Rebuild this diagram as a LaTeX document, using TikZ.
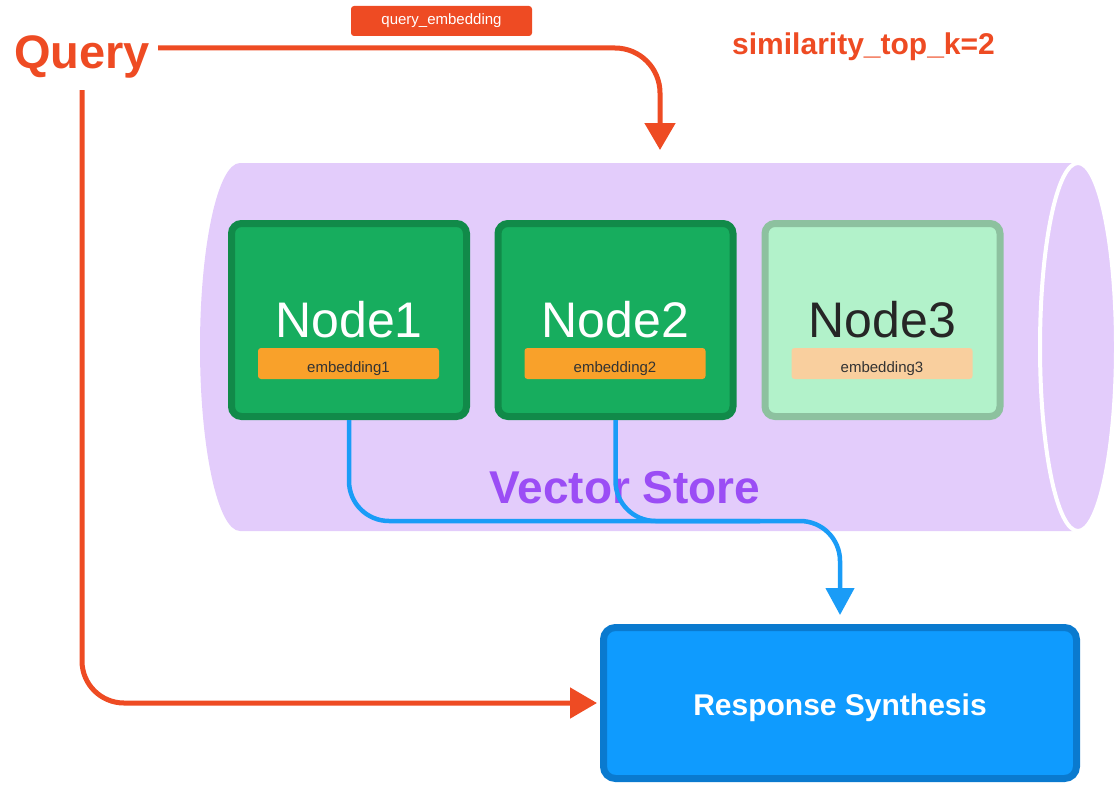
\documentclass[tikz,border=0pt]{standalone}
\usepackage{fontspec}
\setmainfont{Liberation Sans}
\usetikzlibrary{arrows.meta,calc}
\definecolor{qred}{HTML}{EE4B23}
\definecolor{cylc}{HTML}{E3CCFB}
\definecolor{vsc}{HTML}{9B4DF5}
\definecolor{gfill}{HTML}{17AD5E}
\definecolor{gline}{HTML}{118A49}
\definecolor{lgfill}{HTML}{B2F2CA}
\definecolor{lgline}{HTML}{8DC19F}
\definecolor{orng}{HTML}{F9A12A}
\definecolor{lorng}{HTML}{F9CF9E}
\definecolor{bline}{HTML}{1A9CF7}
\definecolor{rsfill}{HTML}{0F9BFE}
\definecolor{rsline}{HTML}{0A7ACF}
\begin{document}
\begin{tikzpicture}[x=1pt,y=-1pt,
  redline/.style={draw=qred,line width=5pt,-{Triangle[length=27pt,width=30pt]}},
  blueline/.style={draw=bline,line width=4.5pt},
  bluearrow/.style={blueline,-{Triangle[length=27pt,width=28pt]}},
  nodebox/.style={draw=gline,fill=gfill,line width=7pt,rounded corners=10pt,minimum width=235pt,minimum height=193pt},
  nodebox3/.style={nodebox,draw=lgline,fill=lgfill},
  nodetitle/.style={font=\fontsize{50}{50}\selectfont,white,inner sep=0pt},
  emblabel/.style={fill=orng,rounded corners=3pt,minimum width=181pt,minimum height=31pt,inner sep=0pt,
    text height=17pt,text depth=0pt,font=\fontsize{15}{15}\selectfont,text=black!80},
  emblabel3/.style={emblabel,fill=lorng},
]
\useasboundingbox (0,0) rectangle (1115,784);
% cylinder
\fill[cylc] (240,163) -- (1078,163) arc[start angle=90,end angle=-90,x radius=38pt,y radius=184pt]
  -- (240,531) arc[start angle=270,end angle=90,x radius=40pt,y radius=184pt] -- cycle;
\draw[white,line width=4pt] (1078,347) ellipse[x radius=38pt,y radius=184pt];
\node[font=\fontsize{46}{46}\selectfont\bfseries,text=vsc,inner sep=0pt,anchor=base] (vst) at (625,503) {Vector Store};

% top labels
\node[font=\fontsize{47}{47}\selectfont\bfseries,text=qred,inner sep=0pt,anchor=base west] (q) at (14,68) {Query};
\node[fill=qred,rounded corners=3pt,minimum width=181pt,minimum height=30pt,inner sep=0pt,
  font=\fontsize{15}{15}\selectfont,text=white] (qe) at (441.5,21) {query\_embedding};
\node[font=\fontsize{30}{30}\selectfont\bfseries,text=qred,inner sep=0pt,anchor=base west] (topk) at (732,55) {similarity\_top\_k=2};

% nodes
\node[nodebox] (n1) at (349,320) {};
\node[nodebox] (n2) at (615.5,320) {};
\node[nodebox3] (n3) at (882.5,320) {};
\node[nodetitle] (t1) at (349,320) {Node1};
\node[nodetitle] (t2) at (615.5,320) {Node2};
\node[nodetitle,text=black!85] (t3) at (882.5,320) {Node3};
\node[emblabel] (e1) at (348.5,363.5) {embedding1};
\node[emblabel] (e2) at (615,363.5) {embedding2};
\node[emblabel3] (e3) at (882,363.5) {embedding3};

% response synthesis
\node[draw=rsline,fill=rsfill,line width=7pt,rounded corners=12pt,minimum width=473pt,minimum height=151pt,
  text height=25pt,text depth=0pt,
  font=\fontsize{30}{30}\selectfont\bfseries,text=white] (rs) at (840,703) {Response Synthesis};

% connectors
\coordinate (qs) at (158,48);
\coordinate (vs) at (660,150);
\coordinate (ql) at (82,90);
\coordinate (j) at (840,521);
\coordinate (j2) at (760,521);
\draw[redline,rounded corners=45pt] (qs) -| (vs);
\draw[redline,rounded corners=42pt,shorten >=3pt] (ql) |- (rs.west);
\draw[bluearrow,rounded corners=40pt,shorten >=9pt] (n1.south) |- (j) -- (rs.north);
\draw[blueline,rounded corners=40pt] (n2.south) |- (j2);
\end{tikzpicture}
\end{document}
